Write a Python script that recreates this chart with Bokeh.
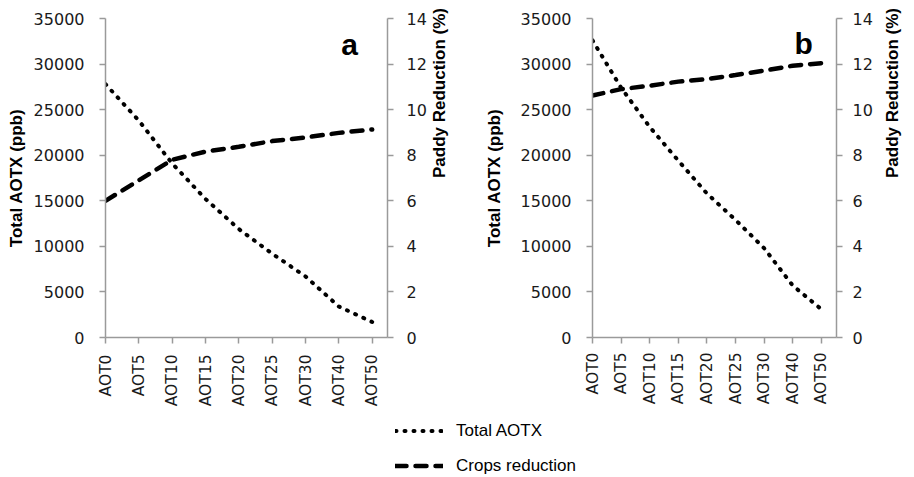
import math
from bokeh.plotting import figure
from bokeh.models import (Range1d, LinearAxis, FixedTicker, NumeralTickFormatter,
                          Label, Legend, LegendItem)
from bokeh.layouts import column, row
from bokeh.embed import file_html
from bokeh.resources import INLINE

categories = ["AOT0", "AOT5", "AOT10", "AOT15", "AOT20", "AOT25", "AOT30", "AOT40", "AOT50"]
left_ticks = [0, 5000, 10000, 15000, 20000, 25000, 30000, 35000]
right_ticks = [0, 2, 4, 6, 8, 10, 12, 14]

aotx_a = [27800, 23800, 19100, 15200, 11900, 9200, 6700, 3400, 1700]
reduction_a = [6.0, 6.9, 7.8, 8.16, 8.37, 8.62, 8.78, 8.98, 9.13]

aotx_b = [32600, 27400, 23100, 19400, 15800, 12900, 9800, 5700, 3100]
reduction_b = [10.62, 10.9, 11.05, 11.23, 11.34, 11.52, 11.71, 11.93, 12.04]

legend_labels = ["Total AOTX", "Crops reduction"]

AXIS_GREY = "#9a9a9a"
TICK_FONT = "DejaVu Sans"
TITLE_FONT = "Liberation Sans"

DOT = dict(line_dash="1 8", line_width=4, line_cap="round", line_color="black")
DASH = dict(line_dash="11 9", line_width=4.5, line_cap="round", line_color="black")

ROW_H = 412
TOP_B = 18
BOT_B = 75


def style_axis(ax, standoff):
    ax.axis_line_color = AXIS_GREY
    ax.axis_line_width = 1.5
    ax.major_tick_line_color = AXIS_GREY
    ax.major_tick_line_width = 1.5
    ax.major_tick_in = 0
    ax.major_tick_out = 6
    ax.minor_tick_in = 0
    ax.minor_tick_out = 0
    ax.major_label_text_font = TICK_FONT
    ax.major_label_text_font_size = "16px"
    ax.major_label_text_color = "#1a1a1a"
    ax.major_label_standoff = standoff
    ax.axis_label_text_font = TITLE_FONT
    ax.axis_label_text_font_style = "bold"
    ax.axis_label_text_font_size = "17px"
    ax.axis_label_text_color = "black"


def make_panel(aotx, red, letter, letter_x, letter_y, width,
               mb_left, mb_right, x_end,
               left_std, left_title_std, right_std, right_title_std, x_std):
    xs = list(range(len(categories)))
    p = figure(width=width, height=ROW_H, x_range=Range1d(0, x_end),
               y_range=Range1d(0, 35000), output_backend="svg",
               toolbar_location=None,
               min_border_left=mb_left, min_border_right=mb_right,
               min_border_top=TOP_B, min_border_bottom=BOT_B)
    p.extra_y_ranges = {"pct": Range1d(0, 14)}
    p.xgrid.visible = False
    p.ygrid.visible = False
    p.outline_line_color = None

    xa = p.xaxis[0]
    xa.ticker = FixedTicker(ticks=xs)
    xa.major_label_overrides = {i: c for i, c in enumerate(categories)}
    xa.major_label_orientation = math.pi / 2
    style_axis(xa, x_std)
    xa.major_label_text_font_size = "15.5px"

    ya = p.yaxis[0]
    ya.ticker = FixedTicker(ticks=left_ticks)
    ya.formatter = NumeralTickFormatter(format="0")
    ya.axis_label = "Total AOTX (ppb)"
    style_axis(ya, left_std)
    ya.axis_label_standoff = left_title_std

    ra = LinearAxis(y_range_name="pct", ticker=FixedTicker(ticks=right_ticks),
                    axis_label="Paddy Reduction (%)")
    style_axis(ra, right_std)
    ra.axis_label_standoff = right_title_std
    if "axis_label_orientation" in LinearAxis.properties():
        ra.axis_label_orientation = math.pi / 2
    p.add_layout(ra, "right")

    p.line(xs, aotx, **DOT)
    p.line(xs, red, y_range_name="pct", **DASH)

    p.add_layout(Label(x=letter_x, y=letter_y, text=letter, text_font=TITLE_FONT,
                       text_font_style="bold", text_font_size="30px",
                       text_align="center", text_baseline="alphabetic",
                       text_color="black"))
    return p


pa = make_panel(aotx_a, reduction_a, "a", 7.32, 32150, 469,
                105, 82, 8.46, 15, 5, 13, 10, 11)
pb = make_panel(aotx_b, reduction_b, "b", 7.38, 32230, 445,
                123, 74, 8.53, 15, 14, 10, 17, 9)

leg = figure(width=913, height=64, x_range=Range1d(0, 1), y_range=Range1d(0, 1),
             x_axis_type=None, y_axis_type=None, output_backend="svg",
             toolbar_location=None, min_border=0)
leg.outline_line_color = None
leg.xgrid.visible = False
leg.ygrid.visible = False
# legend-only renderers, kept outside the visible range
r1 = leg.line(x=[0, 1], y=[-5, -5], **DOT)
r2 = leg.line(x=[0, 1], y=[-5, -5], **DASH)
legend = Legend(items=[LegendItem(label=legend_labels[0], renderers=[r1]),
                       LegendItem(label=legend_labels[1], renderers=[r2])],
                location=(395, 0), orientation="vertical",
                glyph_width=48, glyph_height=21, label_height=21,
                label_standoff=13, spacing=14, padding=0, margin=0,
                border_line_color=None, background_fill_alpha=0,
                label_text_font=TITLE_FONT, label_text_font_size="17px",
                label_text_color="black")
leg.add_layout(legend)

layout = column(row(pa, pb), leg)
open("out.html", "w").write(file_html(layout, INLINE))
